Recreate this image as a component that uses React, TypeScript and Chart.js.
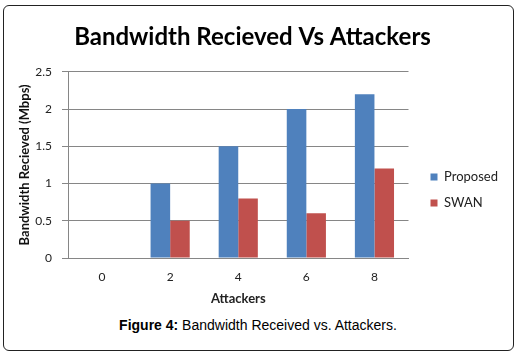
import React, { useEffect, useRef } from "react";
import { Chart, registerables } from "chart.js";

Chart.register(...registerables);

const categories = ["0", "2", "4", "6", "8"];
const proposed = [0, 1, 1.5, 2, 2.2];
const swan = [0, 0.5, 0.8, 0.6, 1.2];
const seriesNames = ["Proposed", "SWAN"];
const seriesColors = ["#4F81BD", "#C0504D"];
const yTicks = [0, 0.5, 1, 1.5, 2, 2.5];
const chartTitle = "Bandwidth Recieved Vs Attackers";
const xTitle = "Attackers";
const yTitle = "Bandwidth Recieved (Mbps)";
const captionBold = "Figure 4:";
const captionText = " Bandwidth Received vs. Attackers.";

const FONT = "Lato, 'Open Sans', sans-serif";
const GRID = "#868686";
const LEGEND_GAP = 9;

export default function App() {
  const ref = useRef<HTMLCanvasElement | null>(null);

  useEffect(() => {
    document.body.style.margin = "0";
    const canvas = ref.current;
    if (!canvas) return;
    const chart = new Chart(canvas, {
      type: "bar",
      data: {
        labels: categories,
        datasets: [
          {
            label: seriesNames[0],
            data: proposed,
            backgroundColor: seriesColors[0],
            borderWidth: 0,
            categoryPercentage: 0.575,
            barPercentage: 1,
          },
          {
            label: seriesNames[1],
            data: swan,
            backgroundColor: seriesColors[1],
            borderWidth: 0,
            categoryPercentage: 0.575,
            barPercentage: 1,
          },
        ],
      },
      options: {
        responsive: false,
        animation: false,
        layout: { padding: { left: 5, right: 19, top: 5, bottom: 2 } },
        plugins: {
          tooltip: { enabled: false },
          title: {
            display: true,
            text: chartTitle,
            color: "#000",
            font: { family: FONT, size: 24, weight: "bold", lineHeight: 1.2 },
            padding: { top: 18, bottom: 20 },
          },
          legend: {
            position: "right",
            title: {
              display: true,
              text: " ",
              font: { size: 10, lineHeight: 1.2 },
              padding: { top: 55, bottom: 0 },
            },
            labels: {
              boxWidth: 7,
              boxHeight: 7,
              padding: 13,
              color: "#222",
              font: { family: FONT, size: 13 },
            },
          },
        },
        scales: {
          x: {
            grid: { display: false, drawTicks: false, tickLength: 0 },
            border: { color: GRID },
            ticks: { color: "#222", padding: 12, font: { family: FONT, size: 12 } },
            title: {
              display: true,
              text: xTitle,
              color: "#222",
              font: { family: FONT, size: 13, weight: "bold", lineHeight: 1.2 },
              padding: { top: 0, bottom: 1 },
            },
            afterFit: (s: any) => {
              s.height = 50;
            },
          },
          y: {
            min: yTicks[0],
            max: yTicks[yTicks.length - 1],
            ticks: {
              stepSize: yTicks[1] - yTicks[0],
              padding: 10,
              color: "#222",
              font: { family: FONT, size: 12 },
              callback: (v: any) => String(Number(v)),
            },
            grid: { color: GRID, tickLength: 6 },
            border: { color: GRID },
            title: {
              display: true,
              text: yTitle,
              color: "#111",
              font: { family: FONT, size: 13, weight: "bold", lineHeight: 1.2 },
              padding: { top: 12, bottom: 0 },
            },
            afterFit: (s: any) => {
              s.width = 63;
            },
          },
          y2: {
            type: "linear",
            position: "right",
            display: true,
            grid: { display: false, drawTicks: false },
            border: { display: false },
            ticks: { display: false },
            afterFit: (s: any) => {
              s.width = LEGEND_GAP;
            },
          },
        },
      },
    } as any);
    return () => chart.destroy();
  }, []);

  return (
    <div style={{ position: "relative", width: 519, height: 356, background: "#fff", overflow: "hidden" }}>
      <div
        style={{
          position: "absolute",
          left: 3,
          top: 5,
          width: 511,
          height: 346,
          boxSizing: "border-box",
          border: "1.5px solid #222",
          borderRadius: 6,
        }}
      />
      <canvas ref={ref} width={519} height={310} style={{ position: "absolute", left: 0, top: 0 }} />
      <div
        style={{
          position: "absolute",
          left: 0,
          top: 317,
          width: 516,
          textAlign: "center",
          fontFamily: "'Liberation Sans', Arial, sans-serif",
          fontSize: 14,
          lineHeight: "16px",
          color: "#000",
        }}
      >
        <b>{captionBold}</b>
        {captionText}
      </div>
    </div>
  );
}
